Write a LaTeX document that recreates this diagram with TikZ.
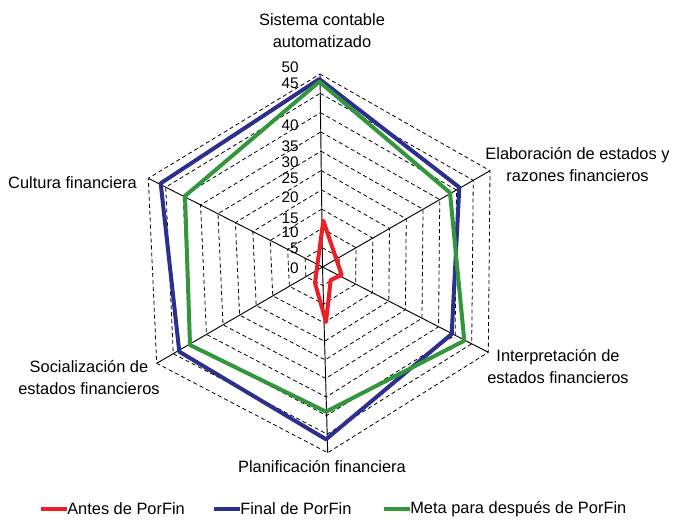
\documentclass[tikz,border=0pt]{standalone}
\usepackage{fontspec}
\setmainfont{Liberation Sans}
\usetikzlibrary{calc}
\definecolor{antes}{RGB}{236,30,38}
\definecolor{final}{RGB}{44,47,142}
\definecolor{meta}{RGB}{52,150,60}
\tikzset{
  ring/.style={black, dash pattern=on 3pt off 2.2pt, line width=0.6pt},
  axisline/.style={black, line width=0.7pt},
  serie/.style={line width=3pt, line join=round},
  cat/.style={font=\fontsize{12.3}{16.5}\selectfont, align=center, inner sep=0pt},
  tick/.style={font=\fontsize{11.5}{12}\selectfont, anchor=east, inner sep=0pt},
  legtext/.style={font=\fontsize{12.3}{14}\selectfont, anchor=west, inner sep=0pt},
}
\begin{document}
\begin{tikzpicture}[x=0.75pt, y=-0.75pt]
    \useasboundingbox (0,0) rectangle (673,519);
    % Centre and axis ends (value 50)
    \coordinate (c) at (322.5,267);
    \coordinate (e1) at (320,74);    \coordinate (e2) at (490,170.7);
    \coordinate (e3) at (488.3,352.3); \coordinate (e4) at (327.7,452.7);
    \coordinate (e5) at (156.7,363.3); \coordinate (e6) at (148.3,178.3);
    % Dashed rings every 5
    \foreach \k in {1,...,10}
        \draw[ring] ($(c)!\k/10!(e1)$) -- ($(c)!\k/10!(e2)$) -- ($(c)!\k/10!(e3)$)
            -- ($(c)!\k/10!(e4)$) -- ($(c)!\k/10!(e5)$) -- ($(c)!\k/10!(e6)$) -- cycle;
    \foreach \p in {e1,e2,e3,e4,e5,e6} \draw[axisline] (c) -- (\p);
    % Scale labels
    \foreach \v/\y in {50/67,45/83,40/125,35/146,30/162,25/178,20/197,15/218,10/232,5/248,0/268}
        \node[tick] (t\v) at (299,\y) {\v};
    % Series
    \draw[serie, antes] (323.3,220.7) -- (341.7,275) -- (330.7,280) -- (326,322) -- (315,283) -- cycle;
    \draw[serie, final] (319.3,79) -- (459.3,187.3) -- (451.7,334) -- (326,439.3) -- (179.3,351.7) -- (160.7,183.3) -- cycle;
    \draw[serie, meta] (319.3,81.7) -- (450,192.7) -- (464.3,340.7) -- (326,411.7) -- (190,345) -- (185,196) -- cycle;
    % Category labels
    \node[cat] (sistema) at (322,31) {Sistema contable\\automatizado};
    \node[cat] (elab) at (577.5,165) {Elaboración de estados y\\razones financieros};
    \node[cat] (interp) at (558,367) {Interpretación de\\estados financieros};
    \node[cat] (plan) at (322,467) {Planificación financiera};
    \node[cat] (social) at (89,378) {Socialización de\\estados financieros};
    \node[cat] (cultura) at (72.5,183) {Cultura financiera};
    % Legend
    \node[legtext] (lantes) at (67,509) {Antes de PorFin};
    \node[legtext] (lfinal) at (240,509) {Final de PorFin};
    \node[legtext] (lmeta) at (410,509) {Meta para después de PorFin};
    \foreach \l/\s in {lantes/antes,lfinal/final,lmeta/meta}
        \draw[\s, line width=3pt] ([xshift=-19.5pt]\l.west) -- (\l.west);
\end{tikzpicture}
\end{document}
